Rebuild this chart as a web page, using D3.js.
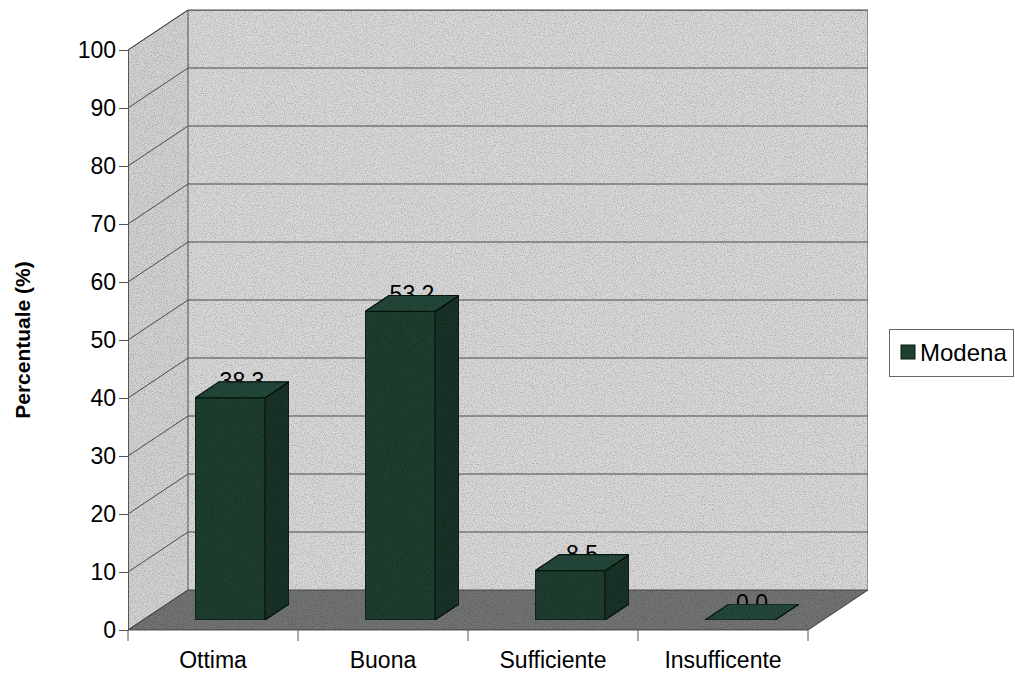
<!DOCTYPE html>
<html>
<head>
<meta charset="utf-8">
<script src="https://cdn.jsdelivr.net/npm/d3@7/dist/d3.min.js"></script>
<style>
  html, body { margin: 0; padding: 0; background: #fff; }
  svg { display: block; }
</style>
</head>
<body>
<svg id="chart" width="1015" height="675"></svg>
<script>
// Data
const categories = ["Ottima", "Buona", "Sufficiente", "Insufficente"];
const values = [38.3, 53.2, 8.5, 0.0];
const valueLabels = ["38.3", "53.2", "8.5", "0.0"];
const seriesName = "Modena";
const yTicks = [0, 10, 20, 30, 40, 50, 60, 70, 80, 90, 100];

const svg = d3.select("#chart");
const FONT = "Liberation Sans, Arial, sans-serif";

// Front plane of the 3D box
const x0 = 128, x1 = 808, yBottom = 630, yTop = 50;
const DX = 60, DY = -40;              // full depth offset
const y = d3.scaleLinear().domain([0, 100]).range([yBottom, yTop]);
const x = d3.scaleBand().domain(categories).range([x0, x1]).paddingInner(0).paddingOuter(0);

const P = (px, py, t) => [px + DX * t, py + DY * t];
const poly = pts => "M" + pts.map(p => p.join(",")).join("L") + "Z";

// Grain texture for the walls and floor
const defs = svg.append("defs");
const grain = defs.append("filter").attr("id", "grain").attr("x", 0).attr("y", 0).attr("width", 1).attr("height", 1);
grain.append("feTurbulence").attr("type", "fractalNoise").attr("baseFrequency", 0.9).attr("numOctaves", 2).attr("seed", 3).attr("result", "n");
grain.append("feColorMatrix").attr("in", "n").attr("type", "matrix")
  .attr("values", "0 0 0 0 0  0 0 0 0 0  0 0 0 0 0  0 0 0 -0.9 0.55").attr("result", "a");
grain.append("feComposite").attr("in", "a").attr("in2", "SourceGraphic").attr("operator", "in").attr("result", "dots");
grain.append("feMerge").selectAll("feMergeNode").data(["SourceGraphic", "dots"]).join("feMergeNode").attr("in", d => d);

const walls = svg.append("g");
// Back wall
walls.append("path")
  .attr("d", poly([P(x0, yBottom, 1), P(x1, yBottom, 1), P(x1, yTop, 1), P(x0, yTop, 1)]))
  .attr("fill", "#dadada").attr("stroke", "#555").attr("stroke-width", 1).attr("filter", "url(#grain)");
// Left wall
walls.append("path")
  .attr("d", poly([P(x0, yBottom, 0), P(x0, yBottom, 1), P(x0, yTop, 1), P(x0, yTop, 0)]))
  .attr("fill", "#d4d4d4").attr("stroke", "#555").attr("stroke-width", 1).attr("filter", "url(#grain)");
// Floor
walls.append("path")
  .attr("d", poly([P(x0, yBottom, 0), P(x1, yBottom, 0), P(x1, yBottom, 1), P(x0, yBottom, 1)]))
  .attr("fill", "#737574").attr("stroke", "#444").attr("stroke-width", 1).attr("filter", "url(#grain)");

// Gridlines on left and back walls
const grid = svg.append("g").attr("fill", "none").attr("stroke", "#4a4a4a").attr("stroke-width", 1);
yTicks.filter(v => v > 0).forEach(v => {
  const a = P(x0, y(v), 0), b = P(x0, y(v), 1), c = P(x1, y(v), 1);
  grid.append("path").attr("d", "M" + a + "L" + b + "L" + c);
});

// Y axis
const yAxis = svg.append("g").attr("transform", `translate(${x0},0)`)
  .call(d3.axisLeft(y).tickValues(yTicks).tickSize(9).tickPadding(3).tickFormat(d3.format("d")));
yAxis.select(".domain").attr("stroke", "#555");
yAxis.selectAll(".tick line").attr("stroke", "#555");
yAxis.selectAll(".tick text").attr("font-family", FONT).attr("font-size", 23).attr("fill", "#000");

// X axis
const xAxis = svg.append("g").attr("transform", `translate(0,${yBottom})`);
xAxis.append("line").attr("x1", x0).attr("x2", x1).attr("y1", 0).attr("y2", 0).attr("stroke", "#555");
[...categories.map(c => x(c)), x1].forEach(px => {
  xAxis.append("line").attr("x1", px).attr("x2", px).attr("y1", 0).attr("y2", 11).attr("stroke", "#555");
});
xAxis.selectAll("text.cat").data(categories).join("text")
  .attr("class", "cat")
  .attr("x", d => x(d) + x.bandwidth() / 2)
  .attr("y", 38)
  .attr("text-anchor", "middle")
  .attr("font-family", FONT).attr("font-size", 23).attr("fill", "#000")
  .text(d => d);

// Y axis title
svg.append("text")
  .attr("transform", `translate(30,${(yTop + yBottom) / 2}) rotate(-90)`)
  .attr("text-anchor", "middle")
  .attr("font-family", FONT).attr("font-size", 21).attr("font-weight", "bold").attr("fill", "#000")
  .text("Percentuale (%)");

// Bars (value labels are drawn first, so the bar tops cover their lower part)
const barW = 70, tFront = 0.25, tBack = 0.65;
const bars = svg.append("g");
categories.forEach((c, i) => {
  const v = values[i];
  const bx = x(c) + x.bandwidth() / 2 - barW / 2 + 2;
  const midX = bx + barW / 2 + DX * (tFront + tBack) / 2;
  const backTop = P(bx, y(v), tBack);
  bars.append("text")
    .attr("x", midX).attr("y", backTop[1] + 7)
    .attr("text-anchor", "middle")
    .attr("font-family", FONT).attr("font-size", 23).attr("fill", "#000")
    .text(valueLabels[i]);

  const fbl = P(bx, y(0), tFront), fbr = P(bx + barW, y(0), tFront);
  const ftl = P(bx, y(v), tFront), ftr = P(bx + barW, y(v), tFront);
  const bbr = P(bx + barW, y(0), tBack);
  const btl = P(bx, y(v), tBack), btr = P(bx + barW, y(v), tBack);
  const g = bars.append("g").attr("stroke", "#0c1a13").attr("stroke-width", 1.2).attr("stroke-linejoin", "round");
  // right side
  g.append("path").attr("d", poly([fbr, bbr, btr, ftr])).attr("fill", "#1c3529").attr("filter", "url(#grain)");
  // front face
  g.append("path").attr("d", poly([fbl, fbr, ftr, ftl])).attr("fill", "#213f31").attr("filter", "url(#grain)");
  // top
  g.append("path").attr("d", poly([ftl, ftr, btr, btl])).attr("fill", "#284a3a").attr("filter", "url(#grain)");
});

// Legend
const leg = svg.append("g");
leg.append("rect").attr("x", 889.5).attr("y", 329.5).attr("width", 124).attr("height", 47)
  .attr("fill", "#fff").attr("stroke", "#666").attr("stroke-width", 1);
leg.append("rect").attr("x", 901).attr("y", 345).attr("width", 14).attr("height", 14)
  .attr("fill", "#213f31").attr("stroke", "#0c1a13");
leg.append("text").attr("x", 920).attr("y", 361)
  .attr("font-family", FONT).attr("font-size", 24).attr("fill", "#000")
  .text(seriesName);
</script>
</body>
</html>
